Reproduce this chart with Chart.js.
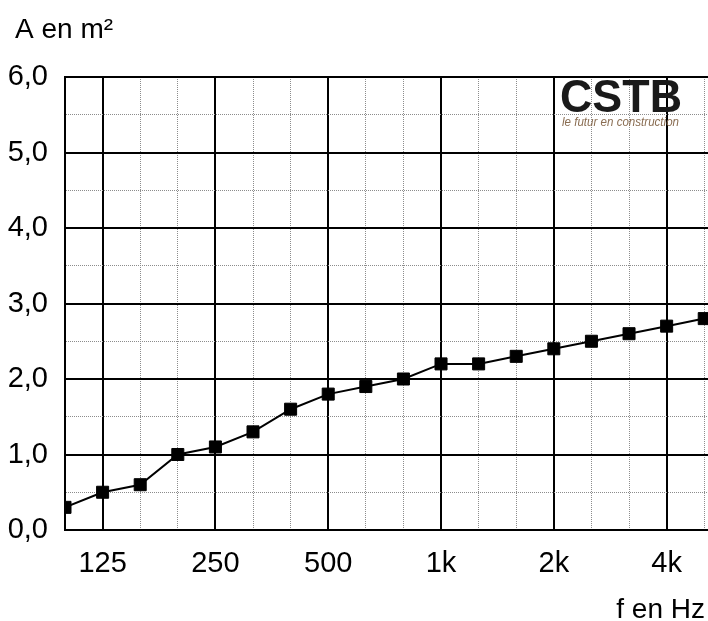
<!DOCTYPE html>
<html>
<head>
<meta charset="utf-8">
<script src="https://cdn.jsdelivr.net/npm/chart.js@4.4.0/dist/chart.umd.min.js"></script>
<style>
  html, body { margin: 0; padding: 0; background: #fff; }
  #wrap { width: 708px; height: 621px; }
</style>
</head>
<body>
<div id="wrap"><canvas id="absChart" width="708" height="621"></canvas></div>
<script>
// Third-octave bands and equivalent absorption area (m²)
const frequencies = ['100', '125', '160', '200', '250', '315', '400', '500', '630', '800',
  '1k', '1,25k', '1,6k', '2k', '2,5k', '3,15k', '4k', '5k'];
const areaValues = [0.3, 0.5, 0.6, 1.0, 1.1, 1.3, 1.6, 1.8, 1.9, 2.0,
  2.2, 2.2, 2.3, 2.4, 2.5, 2.6, 2.7, 2.8];
// only these bands get a label and a heavy grid line
const labelledFreqs = ['125', '250', '500', '1k', '2k', '4k'];

const FONT = '"Liberation Sans", Arial, sans-serif';

const isMajorX = v => labelledFreqs.includes(frequencies[v]);
const isMajorY = v => Number.isInteger(v);

// titles + logo drawn on top of the canvas
const decorations = {
  id: 'decorations',
  afterDraw(chart) {
    const ctx = chart.ctx;
    ctx.save();
    ctx.fillStyle = '#000';
    ctx.textBaseline = 'alphabetic';
    ctx.font = '28px ' + FONT;
    ctx.textAlign = 'left';
    ctx.fillText('A en m²', 15, 38);
    ctx.textAlign = 'right';
    ctx.fillText('f en Hz', 705, 618);

    // CSTB logo
    ctx.textAlign = 'left';
    ctx.fillStyle = '#1a1a1a';
    ctx.font = 'bold 47px ' + FONT;
    let w = ctx.measureText('CSTB').width;
    ctx.save();
    ctx.translate(560, 112);
    ctx.scale(122 / w, 1);
    ctx.fillText('CSTB', 0, 0);
    ctx.restore();

    ctx.fillStyle = '#8a6d52';
    ctx.font = 'italic 13px ' + FONT;
    w = ctx.measureText('le futur en construction').width;
    ctx.save();
    ctx.translate(562, 126);
    ctx.scale(117 / w, 1);
    ctx.fillText('le futur en construction', 0, 0);
    ctx.restore();
    ctx.restore();
  }
};

const chart = new Chart(document.getElementById('absChart').getContext('2d'), {
  type: 'line',
  data: {
    datasets: [{
      data: areaValues.map((v, i) => ({ x: i, y: v })),
      borderColor: '#000',
      borderWidth: 2,
      backgroundColor: '#000',
      pointStyle: 'rect',
      pointRadius: 8.5,
      pointBorderWidth: 1,
      pointBorderColor: '#000',
      pointBackgroundColor: '#000',
      tension: 0
    }]
  },
  options: {
    responsive: false,
    animation: false,
    layout: { autoPadding: false, padding: { top: 77, left: 0, right: 0, bottom: 0 } },
    plugins: {
      legend: { display: false },
      tooltip: { enabled: false }
    },
    scales: {
      x: {
        type: 'linear',
        min: 0,
        max: 17.1,
        afterBuildTicks: scale => {
          scale.ticks = frequencies.map((f, i) => ({ value: i }));
        },
        afterFit: scale => {
          scale.height = 91;
          scale.paddingLeft = 0;
          scale.paddingRight = 0;
        },
        grid: {
          drawTicks: false,
          color: c => isMajorX(c.tick.value) ? '#000' : '#8c8c8c',
          lineWidth: c => isMajorX(c.tick.value) ? 2 : 1
        },
        border: {
          color: '#000',
          width: 2,
          dash: c => (c.tick && !isMajorX(c.tick.value)) ? [1, 1] : []
        },
        ticks: {
          autoSkip: false,
          maxRotation: 0,
          padding: 17,
          color: '#000',
          font: { family: FONT, size: 29 },
          callback: v => isMajorX(v) ? frequencies[v] : ''
        }
      },
      y: {
        min: 0,
        max: 6,
        afterFit: scale => { scale.width = 65; },
        ticks: {
          stepSize: 0.5,
          autoSkip: false,
          padding: 17,
          color: '#000',
          font: { family: FONT, size: 29 },
          callback: v => isMajorY(v) ? v.toFixed(1).replace('.', ',') : ''
        },
        grid: {
          drawTicks: false,
          color: c => isMajorY(c.tick.value) ? '#000' : '#8c8c8c',
          lineWidth: c => isMajorY(c.tick.value) ? 2 : 1
        },
        border: {
          color: '#000',
          width: 2,
          dash: c => (c.tick && !isMajorY(c.tick.value)) ? [1, 1] : []
        }
      }
    }
  },
  plugins: [decorations]
});
</script>
</body>
</html>
